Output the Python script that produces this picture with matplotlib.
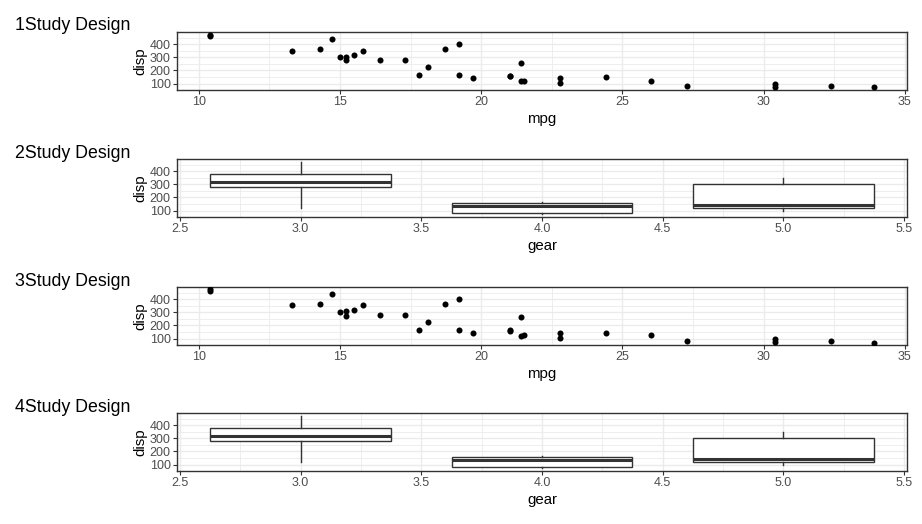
import numpy as np
import matplotlib
matplotlib.use("Agg")
import matplotlib.pyplot as plt
from matplotlib.ticker import MultipleLocator

plt.rcParams['font.family'] = ['Liberation Sans', 'DejaVu Sans']

# mtcars columns
mpg = [21.0, 21.0, 22.8, 21.4, 18.7, 18.1, 14.3, 24.4, 22.8, 19.2, 17.8, 16.4, 17.3, 15.2, 10.4, 10.4,
       14.7, 32.4, 30.4, 33.9, 21.5, 15.5, 15.2, 13.3, 19.2, 27.3, 26.0, 30.4, 15.8, 19.7, 15.0, 21.4]
disp = [160, 160, 108, 258, 360, 225, 360, 146.7, 140.8, 167.6, 167.6, 275.8, 275.8, 275.8, 472, 460,
        440, 78.7, 75.7, 71.1, 120.1, 318, 304, 350, 400, 79, 120.3, 95.1, 351, 145, 301, 121]
gear = [4, 4, 4, 3, 3, 3, 3, 4, 4, 4, 4, 3, 3, 3, 3, 3, 3, 4, 4, 4, 3, 3, 3, 3, 3, 4, 5, 5, 5, 5, 5, 4]
# panel 3 is jittered a little in height
disp_jit = [160, 162, 106, 266, 362, 226, 362, 146, 140, 168, 168, 276, 276, 268, 476, 458,
            440, 78, 77, 69, 127, 318, 312, 358, 400, 79, 127, 97, 352, 146, 302, 121]

titles = ["1Study Design", "2Study Design", "3Study Design", "4Study Design"]

W, H = 922, 524
fig = plt.figure(figsize=(W / 100, H / 100), dpi=100)

left_px, right_px, ph = 177, 907, 58
tops = [32, 159, 287, 413]

border = '#333333'
gridc = '#EBEBEB'
tickc = '#4D4D4D'


def style_axes(ax, xlabel, xmajor, xminor):
    ax.set_ylim(51, 492)
    ax.yaxis.set_major_locator(MultipleLocator(100))
    ax.yaxis.set_minor_locator(MultipleLocator(50))
    ax.xaxis.set_major_locator(MultipleLocator(xmajor))
    ax.xaxis.set_minor_locator(MultipleLocator(xminor))
    ax.set_axisbelow(True)
    ax.grid(which='major', color=gridc, lw=1.0)
    ax.grid(which='minor', color=gridc, lw=0.6)
    for s in ax.spines.values():
        s.set_color(border)
        s.set_linewidth(1.0)
    ax.tick_params(which='major', length=2.7, width=0.8, color=border, labelcolor=tickc,
                   labelsize=9, pad=1.8)
    ax.tick_params(which='minor', length=0)
    ax.set_xlabel(xlabel, fontsize=10.8, color='black', labelpad=2.5)
    ax.set_ylabel('disp', fontsize=10.8, color='black', labelpad=1.5)


for i, top in enumerate(tops):
    ax = fig.add_axes([left_px / W, 1 - (top + ph) / H, (right_px - left_px) / W, ph / H])
    if i % 2 == 0:
        y = disp if i == 0 else disp_jit
        ax.scatter(mpg, y, s=19, color='black', linewidths=0, zorder=3)
        ax.set_xlim(9.225, 35.075)
        style_axes(ax, 'mpg', 5, 2.5)
        ax.xaxis.set_major_formatter(plt.FuncFormatter(lambda v, p: f"{v:.0f}"))
    else:
        groups = [[d for d, g in zip(disp, gear) if g == k] for k in (3, 4, 5)]
        ax.boxplot(groups, positions=[3, 4, 5], widths=0.75, whis=1.5, showcaps=False,
                   manage_ticks=False, patch_artist=True,
                   boxprops=dict(facecolor='white', edgecolor=border, lw=1.0),
                   whiskerprops=dict(color=border, lw=1.0),
                   medianprops=dict(color=border, lw=2.2),
                   flierprops=dict(marker='o', markerfacecolor=border, markeredgecolor=border, markersize=3))
        ax.set_xlim(2.4875, 5.5125)
        style_axes(ax, 'gear', 0.5, 0.25)
        ax.xaxis.set_major_formatter(plt.FuncFormatter(lambda v, p: f"{v:.1f}"))
    fig.text(15 / W, 1 - (top - 1.5) / H, titles[i], fontsize=12.8, ha='left', va='baseline')

fig.savefig("out.png", dpi=100)
